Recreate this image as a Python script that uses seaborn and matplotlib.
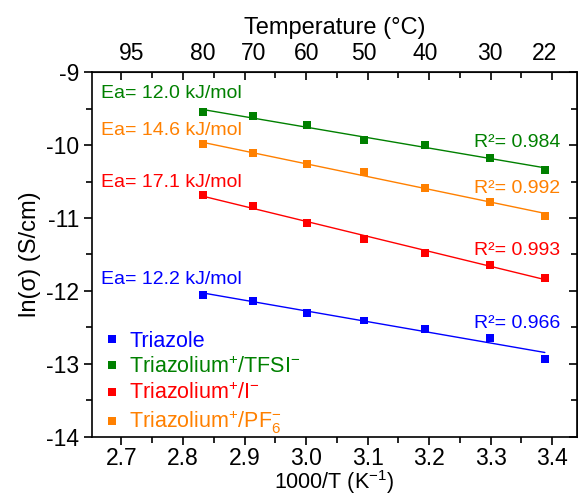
import numpy as np
import pandas as pd
import matplotlib
matplotlib.use("Agg")
import matplotlib.pyplot as plt
from matplotlib.ticker import MultipleLocator
import seaborn as sns

# data (x = 1000/T, y = ln(sigma))
inv_t = [2.832, 2.914, 3.002, 3.094, 3.193, 3.299, 3.388]
triazole = [-12.055, -12.132, -12.297, -12.406, -12.516, -12.644, -12.927]
tfsi = [-9.553, -9.599, -9.730, -9.927, -10.000, -10.174, -10.338]
iodide = [-10.685, -10.836, -11.068, -11.283, -11.479, -11.640, -11.818]
pf6 = [-9.991, -10.110, -10.260, -10.370, -10.589, -10.777, -10.968]

series_names = ["Triazole", "Triazolium$^{+}$/TFSI$^{-}$",
                "Triazolium$^{+}$/I$^{-}$", "Triazolium$^{+}$/PF$_{6}^{-}$"]
colors = ["#0000FF", "#008000", "#FF0000", "#FF8000"]
ea_labels = ["Ea= 12.2 kJ/mol", "Ea= 12.0 kJ/mol", "Ea= 17.1 kJ/mol", "Ea= 14.6 kJ/mol"]
r2_labels = ["R²= 0.966", "R²= 0.984", "R²= 0.993", "R²= 0.992"]
ea_y = [-11.85, -9.30, -10.52, -9.795]
r2_y = [-12.45, -9.97, -11.44, -10.59]
top_temps = [95, 80, 70, 60, 50, 40, 30, 22]

sns.set_style("ticks")
plt.rcParams["font.family"] = ["Liberation Sans", "DejaVu Sans"]
plt.rcParams["mathtext.default"] = "regular"
plt.rcParams["axes.unicode_minus"] = False
plt.rcParams["text.color"] = "black"
plt.rcParams["axes.labelcolor"] = "black"
plt.rcParams["xtick.color"] = "black"
plt.rcParams["ytick.color"] = "black"

df = pd.DataFrame({
    "x": inv_t * 4,
    "y": triazole + tfsi + iodide + pf6,
    "series": np.repeat(series_names, len(inv_t)),
})

fig = plt.figure(figsize=(5.78, 4.97), dpi=100)
ax = fig.add_axes([0.159, 0.121, 0.839, 0.734])

# linear fits over the data range
for name, col in zip(series_names, colors):
    sns.regplot(data=df[df["series"] == name], x="x", y="y", scatter=False,
                ci=None, truncate=True, color=col, line_kws={"lw": 1.0}, ax=ax)

sns.scatterplot(data=df, x="x", y="y", hue="series", hue_order=series_names,
                palette=colors, marker="s", s=32, linewidth=0, ax=ax, zorder=3)

ax.set_xlim(2.652, 3.44)
ax.set_ylim(-14, -9)
xt = np.arange(2.7, 3.41, 0.1)
ax.set_xticks(xt)
ax.set_xticklabels([f"{v:.1f}" for v in xt])
ax.xaxis.set_minor_locator(MultipleLocator(0.05))
ax.yaxis.set_major_locator(MultipleLocator(1))
ax.yaxis.set_minor_locator(MultipleLocator(0.5))
ax.tick_params(axis="both", which="both", labelsize=16.5, width=1.2, direction="out",
               top=False, right=False)
ax.tick_params(axis="both", which="major", length=6, pad=3)
ax.tick_params(axis="x", which="major", pad=1.5)
ax.tick_params(axis="both", which="minor", length=4)
for spine in ax.spines.values():
    spine.set_linewidth(1.2)
    spine.set_color("black")
ax.set_xlabel("1000/T (K$^{-1}$)", fontsize=15.5, labelpad=-1.5)
ax.set_ylabel("ln(σ) (S/cm)", fontsize=17, labelpad=4)

# top temperature axis (labels only)
ax2 = ax.twiny()
ax2.set_xlim(ax.get_xlim())
ax2.set_xticks([1000 / (t + 273.15) for t in top_temps])
ax2.set_xticklabels([str(t) for t in top_temps])
ax2.tick_params(axis="x", length=0, pad=5, labelsize=16.5)
ax2.set_xlabel("Temperature (°C)", fontsize=17, labelpad=6)
for spine in ax2.spines.values():
    spine.set_visible(False)

# inward ticks on top and right
ax3 = ax.secondary_xaxis("top")
ax3.xaxis.set_major_locator(MultipleLocator(0.1))
ax3.xaxis.set_minor_locator(MultipleLocator(0.05))
ax3.tick_params(which="both", direction="in", labeltop=False, width=1.2)
ax3.tick_params(which="major", length=6)
ax3.tick_params(which="minor", length=4)
ax3.set_xticklabels([])
ax4 = ax.secondary_yaxis("right")
ax4.yaxis.set_major_locator(MultipleLocator(1))
ax4.yaxis.set_minor_locator(MultipleLocator(0.5))
ax4.tick_params(which="both", direction="in", labelright=False, width=1.2)
ax4.tick_params(which="major", length=6)
ax4.tick_params(which="minor", length=4)
ax4.set_yticklabels([])

for lab, yy, col in zip(ea_labels, ea_y, colors):
    ax.text(2.666, yy, lab, color=col, fontsize=14, ha="left", va="center")
for lab, yy, col in zip(r2_labels, r2_y, colors):
    ax.text(3.413, yy, lab, color=col, fontsize=14, ha="right", va="center")

leg = ax.legend(loc="lower left", bbox_to_anchor=(-0.012, -0.04), frameon=False,
                fontsize=15.5, handletextpad=0.3, labelspacing=0.22,
                handlelength=1.0, borderaxespad=0.3)
for txt, col in zip(leg.get_texts(), colors):
    txt.set_color(col)

fig.savefig("out.png", dpi=100)
